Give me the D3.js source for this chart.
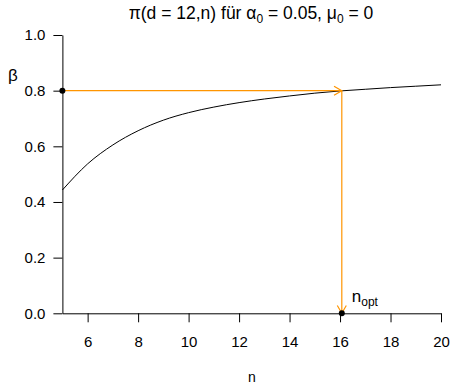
<!DOCTYPE html>
<html>
<head>
<meta charset="utf-8">
<script src="https://cdn.jsdelivr.net/npm/d3@7"></script>
<style>
  body { margin: 0; background: #fff; }
  text { font-family: "Liberation Sans", Arial, sans-serif; fill: #000; }
</style>
</head>
<body>
<div id="chart"></div>
<script>
// power curve
var nValues = [5, 6, 7, 8, 9, 10, 11, 12, 13, 14, 15, 16, 17, 18, 19, 20];
var power = [0.443, 0.537, 0.605, 0.656, 0.694, 0.721, 0.741, 0.757, 0.770, 0.781, 0.791, 0.799, 0.805, 0.811, 0.816, 0.821];
var xTicks = [6, 8, 10, 12, 14, 16, 18, 20];
var yTicks = [0, 0.2, 0.4, 0.6, 0.8, 1.0];
var beta = 0.8;
var nOpt = 16.07;

var width = 451, height = 384;
var svg = d3.select('#chart').append('svg')
    .attr('width', width)
    .attr('height', height);

var x = d3.scaleLinear().domain([5, 20]).range([62.4, 441]);
var y = d3.scaleLinear().domain([0, 1]).range([313.3, 35]);

// title
var title = svg.append('text')
    .attr('x', 251)
    .attr('y', 19)
    .attr('text-anchor', 'middle')
    .style('font-size', '17.5px');
title.append('tspan').text('π(d = 12,n) für α');
title.append('tspan').attr('dy', 4).style('font-size', '12px').text('0');
title.append('tspan').attr('dy', -4).text(' = 0.05, μ');
title.append('tspan').attr('dy', 4).style('font-size', '12px').text('0');
title.append('tspan').attr('dy', -4).text(' = 0');

// y axis
var yAxis = d3.axisLeft(y)
    .tickValues(yTicks)
    .tickFormat(d3.format('.1f'))
    .tickSize(9)
    .tickSizeOuter(0)
    .tickPadding(8);
var gy = svg.append('g')
    .attr('transform', 'translate(' + x(5) + ',0)')
    .call(yAxis);
gy.select('.domain').attr('stroke', '#000');

// x axis at y = 0
var xAxis = d3.axisBottom(x)
    .tickValues(xTicks)
    .tickSize(9)
    .tickSizeOuter(0)
    .tickPadding(14);
var gx = svg.append('g')
    .attr('transform', 'translate(0,' + y(0) + ')')
    .call(xAxis);
gx.select('.domain').attr('stroke', '#000');

svg.selectAll('.tick text')
    .attr('fill', '#000')
    .style('font-size', '15px')
    .style('font-family', '"Liberation Sans", Arial, sans-serif');

// axis labels
svg.append('text')
    .attr('x', 13)
    .attr('y', 81)
    .attr('text-anchor', 'middle')
    .style('font-size', '17px')
    .text('β');
svg.append('text')
    .attr('x', 252)
    .attr('y', 382)
    .attr('text-anchor', 'middle')
    .style('font-size', '14px')
    .text('n');

// curve
var line = d3.line()
    .x(function(d, i) { return x(nValues[i]); })
    .y(function(d) { return y(d); })
    .curve(d3.curveMonotoneX);
svg.append('path')
    .datum(power)
    .attr('d', line)
    .attr('fill', 'none')
    .attr('stroke', '#000')
    .attr('stroke-width', 1);

// arrows
function arrowHead(x1, y1, x2, y2) {
    var ang = Math.atan2(y2 - y1, x2 - x1);
    var len = 9, spread = Math.PI / 6;
    var a = [x2 - len * Math.cos(ang - spread), y2 - len * Math.sin(ang - spread)];
    var b = [x2 - len * Math.cos(ang + spread), y2 - len * Math.sin(ang + spread)];
    return 'M' + a + 'L' + x2 + ',' + y2 + 'L' + b;
}
var arrows = [
    [x(5), y(beta), x(nOpt), y(beta)],
    [x(nOpt), y(beta), x(nOpt), y(0)]
];
arrows.forEach(function(a) {
    svg.append('line')
        .attr('x1', a[0]).attr('y1', a[1])
        .attr('x2', a[2]).attr('y2', a[3])
        .attr('stroke', '#ff9500')
        .attr('stroke-width', 1.2);
    svg.append('path')
        .attr('d', arrowHead(a[0], a[1], a[2], a[3]))
        .attr('fill', 'none')
        .attr('stroke', '#ff9500')
        .attr('stroke-width', 1.2);
});

// points
svg.selectAll('circle.pt')
    .data([[5, beta], [nOpt, 0]])
    .enter().append('circle')
    .attr('class', 'pt')
    .attr('cx', function(d) { return x(d[0]); })
    .attr('cy', function(d) { return y(d[1]); })
    .attr('r', 3)
    .attr('fill', '#000');

// n_opt label
var lab = svg.append('text')
    .attr('x', x(nOpt) + 10)
    .attr('y', 302)
    .style('font-size', '17px');
lab.append('tspan').text('n');
lab.append('tspan').attr('dy', 4).style('font-size', '12px').text('opt');
</script>
</body>
</html>
